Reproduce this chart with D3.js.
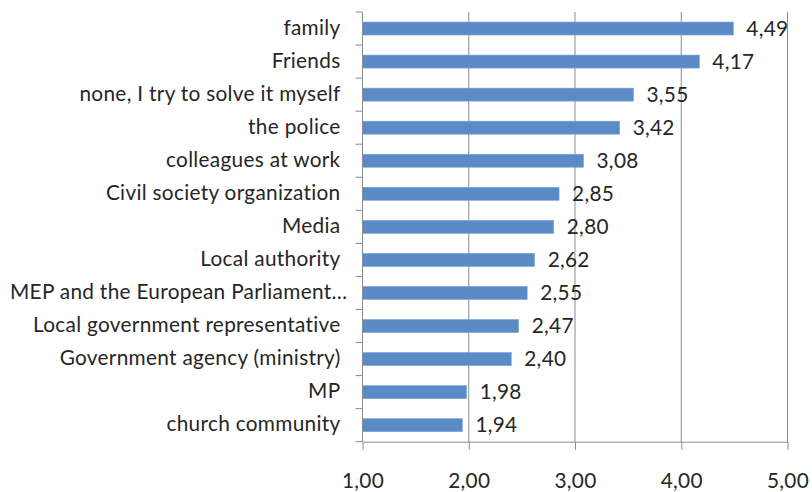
<!DOCTYPE html>
<html>
<head>
<meta charset="utf-8">
<script src="https://cdn.jsdelivr.net/npm/d3@7"></script>
<style>
  html, body { margin: 0; padding: 0; background: #fff; }
  svg { display: block; }
  text { font-family: Lato, "Open Sans", sans-serif; fill: #262626; }
</style>
</head>
<body>
<svg id="chart" width="812" height="492"></svg>
<script>
// Mean ratings per institution / source of help
const categories = [
  "family",
  "Friends",
  "none, I try to solve it myself",
  "the police",
  "colleagues at work",
  "Civil society organization",
  "Media",
  "Local authority",
  "MEP and the European Parliament\u2026",
  "Local government representative",
  "Government agency (ministry)",
  "MP",
  "church community"
];
const values = [4.49, 4.17, 3.55, 3.42, 3.08, 2.85, 2.80, 2.62, 2.55, 2.47, 2.40, 1.98, 1.94];
const xTicks = [1, 2, 3, 4, 5];

const fmt = v => v.toFixed(2).replace(".", ",");

const svg = d3.select("#chart");
const margin = { top: 12, right: 24.5, left: 362.5 };
const W = 812;
const plotBottom = 441.7;
const fontSize = 20.8;
const spacing = "0.3px";

const x = d3.scaleLinear().domain([1, 5]).range([margin.left, W - margin.right]);
const band = d3.scaleBand().domain(categories).range([margin.top, plotBottom]);

const gridColor = "#8c8c8c";

// vertical gridlines
svg.append("g").selectAll("line").data(xTicks.slice(1)).join("line")
  .attr("x1", d => x(d)).attr("x2", d => x(d))
  .attr("y1", margin.top).attr("y2", plotBottom)
  .attr("stroke", gridColor).attr("stroke-width", 1);

// bars
svg.append("g").selectAll("rect").data(values).join("rect")
  .attr("x", x(1))
  .attr("y", (d, i) => band(categories[i]) + band.bandwidth() / 2 - 6.5)
  .attr("width", d => x(d) - x(1))
  .attr("height", 13)
  .attr("fill", "#5b8bc7")
  .attr("stroke", "#7aa3d6").attr("stroke-width", 0.6);

// value labels
svg.append("g").selectAll("text").data(values).join("text")
  .attr("x", d => x(d) + 13)
  .attr("y", (d, i) => band(categories[i]) + band.bandwidth() / 2 + 2)
  .attr("dominant-baseline", "middle")
  .attr("font-size", fontSize)
  .attr("letter-spacing", spacing)
  .text(d => fmt(d));

// x axis
const xAxis = d3.axisBottom(x).tickValues(xTicks).tickSize(8).tickSizeOuter(0).tickPadding(24).tickFormat(fmt);
const gx = svg.append("g").attr("transform", `translate(0,${plotBottom})`).call(xAxis);
gx.select(".domain").attr("stroke", gridColor);
gx.selectAll(".tick line").attr("stroke", gridColor);
gx.selectAll(".tick text")
  .attr("font-size", fontSize)
  .attr("letter-spacing", spacing)
  .attr("font-family", "Lato, 'Open Sans', sans-serif")
  .attr("fill", "#262626");

// y axis with ticks at band boundaries
svg.append("line")
  .attr("x1", x(1)).attr("x2", x(1)).attr("y1", margin.top).attr("y2", plotBottom)
  .attr("stroke", gridColor);
const boundaries = categories.map(c => band(c)).concat([plotBottom]);
svg.append("g").selectAll("line").data(boundaries).join("line")
  .attr("x1", x(1) - 7).attr("x2", x(1))
  .attr("y1", d => d).attr("y2", d => d)
  .attr("stroke", gridColor);

// category labels, right-aligned; an over-long label is pushed right to stay on the page
svg.append("g").selectAll("text").data(categories).join("text")
  .attr("x", x(1) - 22)
  .attr("y", d => band(d) + band.bandwidth() / 2 + 1)
  .attr("text-anchor", "end")
  .attr("dominant-baseline", "middle")
  .attr("font-size", fontSize)
  .attr("letter-spacing", spacing)
  .text(d => d)
  .each(function () {
    const w = this.getComputedTextLength();
    const xr = +this.getAttribute("x");
    if (xr - w < 10) this.setAttribute("x", 10 + w);
  });
</script>
</body>
</html>
